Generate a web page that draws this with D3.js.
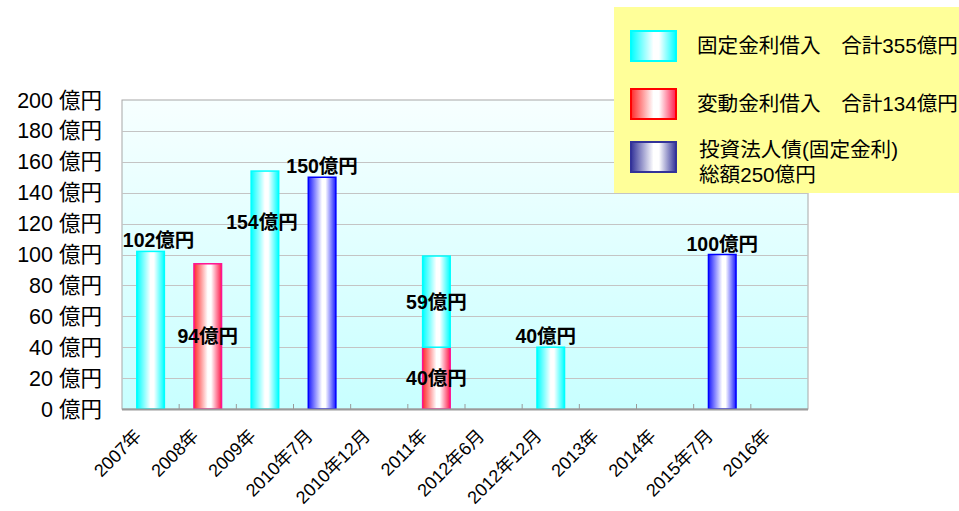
<!DOCTYPE html>
<html>
<head>
<meta charset="utf-8">
<script src="https://cdn.jsdelivr.net/npm/d3@7/dist/d3.min.js"></script>
<style>
  html, body { margin: 0; padding: 0; background: #fff; }
  svg { display: block; font-family: "Liberation Sans", Arial, "Noto Sans CJK JP", sans-serif; }
</style>
</head>
<body>
<svg id="chart" width="959" height="511"></svg>
<script>
// Repayment schedule by period (unit: 億円)
const categories = ["2007年", "2008年", "2009年", "2010年7月", "2010年12月", "2011年",
                    "2012年6月", "2012年12月", "2013年", "2014年", "2015年7月", "2016年"];
const floatingLoan = [0, 94, 0, 0, 0, 40, 0, 0, 0, 0, 0, 0];     // 変動金利借入
const fixedLoan    = [102, 0, 154, 0, 0, 59, 0, 40, 0, 0, 0, 0];  // 固定金利借入
const bonds        = [0, 0, 0, 150, 0, 0, 0, 0, 0, 0, 100, 0];    // 投資法人債
const yTicks = [0, 20, 40, 60, 80, 100, 120, 140, 160, 180, 200];
const legendLabels = [["固定金利借入\u3000合計355億円"], ["変動金利借入\u3000合計134億円"], ["投資法人債(固定金利)", "総額250億円"]];

// Where each value label sits relative to its bar segment
const labelPlacement = [
  { series: "fixed", cat: 0, place: "above", dx: 8 },
  { series: "floating", cat: 1, place: "middle", dx: 0 },
  { series: "fixed", cat: 2, place: "upper", dx: -3 },
  { series: "bonds", cat: 3, place: "above", dx: 0 },
  { series: "fixed", cat: 5, place: "middle", dx: 0 },
  { series: "floating", cat: 5, place: "middle", dx: 0 },
  { series: "fixed", cat: 7, place: "above", dx: -5 },
  { series: "bonds", cat: 10, place: "above", dx: 0 }
];

const svg = d3.select("#chart");
const plot = { left: 122, top: 100, right: 808, bottom: 409 };

const x = d3.scaleBand().domain(categories).range([plot.left, plot.right]).padding(0);
const y = d3.scaleLinear().domain([0, 200]).range([plot.bottom, plot.top]);

const defs = svg.append("defs");
const bg = defs.append("linearGradient").attr("id", "plotBg").attr("x1", 0).attr("y1", 0).attr("x2", 0).attr("y2", 1);
bg.append("stop").attr("offset", "0%").attr("stop-color", "#f7ffff");
bg.append("stop").attr("offset", "100%").attr("stop-color", "#c8ffff");

function barGradient(id, edge, edgeRight) {
  const g = defs.append("linearGradient").attr("id", id).attr("x1", 0).attr("y1", 0).attr("x2", 1).attr("y2", 0);
  g.append("stop").attr("offset", "0%").attr("stop-color", edge);
  g.append("stop").attr("offset", "50%").attr("stop-color", "#ffffff");
  g.append("stop").attr("offset", "62%").attr("stop-color", "#ffffff");
  g.append("stop").attr("offset", "100%").attr("stop-color", edgeRight || edge);
}
barGradient("gFixed", "#00ffff");
barGradient("gFloating", "#ff2a2a", "#ff1a4a");
barGradient("gBonds", "#1a1aff");
barGradient("gBondsLegend", "#333399");

// plot background and grid
svg.append("rect").attr("x", plot.left).attr("y", plot.top)
  .attr("width", plot.right - plot.left).attr("height", plot.bottom - plot.top)
  .attr("fill", "url(#plotBg)").attr("stroke", "#a8a8a8").attr("stroke-width", 1);

svg.append("g").selectAll("line").data(yTicks.filter(d => d > 0 && d < 200)).join("line")
  .attr("x1", plot.left).attr("x2", plot.right)
  .attr("y1", d => Math.round(y(d)) + 0.5).attr("y2", d => Math.round(y(d)) + 0.5)
  .attr("stroke", "#c4c4c4").attr("stroke-width", 1.2);

// y axis labels
svg.append("g").selectAll("text").data(yTicks).join("text")
  .attr("x", 102).attr("y", d => y(d) + 7.5)
  .attr("text-anchor", "end").attr("font-size", 21.5).attr("fill", "#000")
  .text(d => d + " 億円");

// series definitions (stack order: floating at bottom, fixed on top)
const series = [
  { key: "floating", values: floatingLoan, fill: "url(#gFloating)", stroke: "#ff1493" },
  { key: "fixed", values: fixedLoan, fill: "url(#gFixed)", stroke: "#00ffff" },
  { key: "bonds", values: bonds, fill: "url(#gBonds)", stroke: "#0000ff" }
];
const stackTable = categories.map((c, i) => {
  const row = { cat: c };
  series.forEach(s => row[s.key] = s.values[i]);
  return row;
});
const stacked = d3.stack().keys(series.map(s => s.key))(stackTable);

const barW = x.bandwidth() * 0.5;
const barX = c => x(c) + (x.bandwidth() - barW) / 2;

stacked.forEach((layer, li) => {
  const s = series[li];
  svg.append("g").selectAll("rect").data(layer.filter(d => d[1] - d[0] > 0)).join("rect")
    .attr("x", d => barX(d.data.cat) + 0.5)
    .attr("y", d => y(d[1]))
    .attr("width", barW - 1)
    .attr("height", d => y(d[0]) - y(d[1]))
    .attr("fill", s.fill).attr("stroke", s.stroke).attr("stroke-width", 1.5);
});

// bottom axis line and category ticks
svg.append("line").attr("x1", plot.left).attr("x2", plot.right)
  .attr("y1", plot.bottom + 0.5).attr("y2", plot.bottom + 0.5)
  .attr("stroke", "#9a9a9a").attr("stroke-width", 2);
svg.append("g").selectAll("line").data(categories.slice(1)).join("line")
  .attr("x1", d => x(d)).attr("x2", d => x(d))
  .attr("y1", plot.bottom).attr("y2", plot.bottom - 5)
  .attr("stroke", "#9a9a9a").attr("stroke-width", 1);

// category labels, rotated
svg.append("g").selectAll("text").data(categories).join("text")
  .attr("text-anchor", "end").attr("font-size", 18).attr("fill", "#000")
  .attr("transform", d => `translate(${x(d) + x.bandwidth() / 2 - 8},${plot.bottom + 28}) rotate(-45)`)
  .text(d => d);

// value labels
const layerByKey = {};
stacked.forEach((layer, li) => layerByKey[series[li].key] = layer);
svg.append("g").selectAll("text").data(labelPlacement).join("text")
  .attr("text-anchor", "middle").attr("font-size", 19.5).attr("font-weight", "bold").attr("fill", "#000")
  .attr("x", d => x(categories[d.cat]) + x.bandwidth() / 2 + d.dx)
  .attr("y", d => {
    const seg = layerByKey[d.series][d.cat];
    if (d.place === "above") return y(seg[1]) - 4;
    if (d.place === "upper") return y(seg[1]) + 58;
    return (y(seg[0]) + y(seg[1])) / 2 + 7;
  })
  .text(d => layerByKey[d.series][d.cat][1] - layerByKey[d.series][d.cat][0] + "億円");

// legend
const legend = svg.append("g");
legend.append("rect").attr("x", 614).attr("y", 7).attr("width", 345).attr("height", 186).attr("fill", "#ffff99");
const legendItems = [
  { fill: "url(#gFixed)", stroke: "#00ffff", y: 31 },
  { fill: "url(#gFloating)", stroke: "#ff0000", y: 89 },
  { fill: "url(#gBondsLegend)", stroke: "#333399", y: 142 }
];
legendItems.forEach((it, i) => {
  legend.append("rect").attr("x", 631).attr("y", it.y).attr("width", 45).attr("height", 30)
    .attr("fill", it.fill).attr("stroke", it.stroke).attr("stroke-width", 2);
  const lines = legendLabels[i];
  lines.forEach((t, j) => {
    legend.append("text").attr("x", i === 2 ? 699 : 697)
      .attr("y", (i === 2 ? it.y + 15 : it.y + 22) + j * 25)
      .attr("font-size", 20.6).attr("fill", "#000").text(t);
  });
});
</script>
</body>
</html>
